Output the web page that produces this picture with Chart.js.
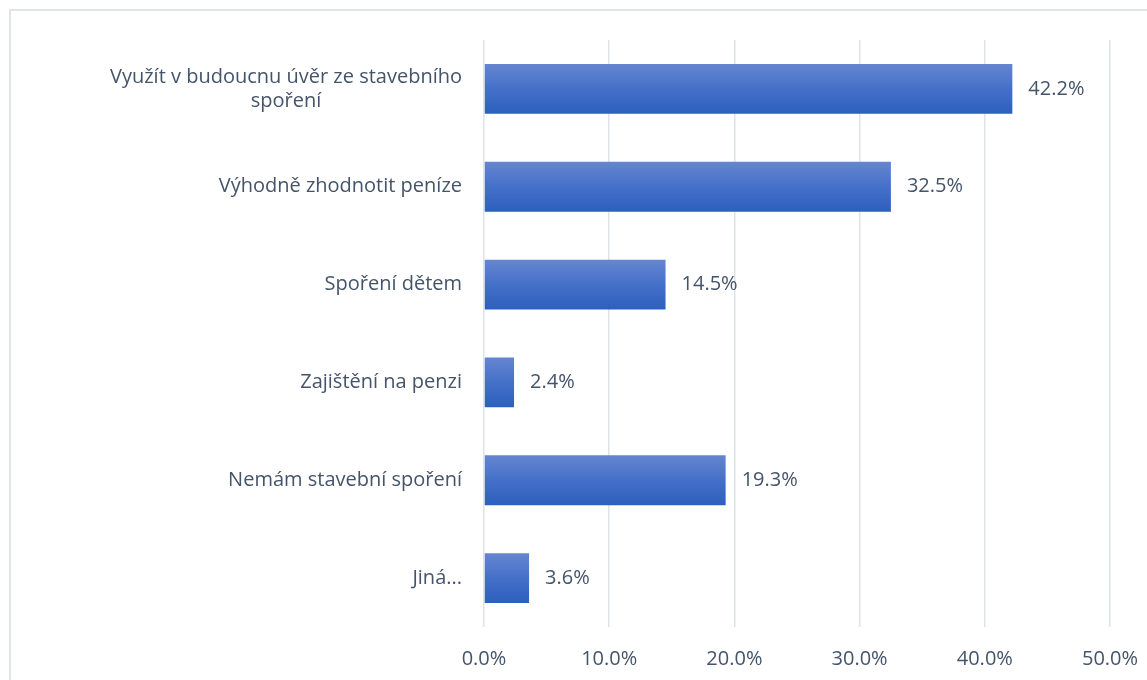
<!DOCTYPE html>
<html>
<head>
<meta charset="utf-8">
<script src="https://cdn.jsdelivr.net/npm/chart.js@4"></script>
<style>
  html, body { margin: 0; padding: 0; background: #fff; }
  #wrap { width: 1147px; height: 680px; position: relative; }
</style>
</head>
<body>
<div id="wrap"><canvas id="chart"></canvas></div>
<script>
// categories (multi-line labels are arrays)
const categories = [
  ['Využít v budoucnu úvěr ze stavebního', 'spoření'],
  ['Výhodně zhodnotit peníze'],
  ['Spoření dětem'],
  ['Zajištění na penzi'],
  ['Nemám stavební spoření'],
  ['Jiná...']
];
const values = [42.2, 32.5, 14.5, 2.4, 19.3, 3.6];
const xTicks = [0, 10, 20, 30, 40, 50];

const TEXT = '#44546a';
const FONT = '"Open Sans", Lato, sans-serif';
const FONT_SIZE = 20;
const BAR_PCT = 0.51;

// outer frame like the office chart border
const framePlugin = {
  id: 'frame',
  beforeDraw(chart) {
    const ctx = chart.ctx;
    ctx.save();
    ctx.strokeStyle = '#e1e4e9';
    ctx.lineWidth = 2;
    ctx.strokeRect(10, 10, chart.width + 20, chart.height + 20);
    ctx.restore();
  }
};

// vertical gradient for each bar (scriptable, so options are not shared)
function barFill(c) {
  const chart = c.chart;
  const area = chart.chartArea;
  const y = chart.scales.y;
  if (!area || !y || c.dataIndex == null) return '#4472c4';
  const cy = y.getPixelForValue(c.dataIndex);
  const h = area.height / categories.length * BAR_PCT;
  const g = chart.ctx.createLinearGradient(0, cy - h / 2, 0, cy + h / 2);
  g.addColorStop(0, '#6586d0');
  g.addColorStop(0.5, '#4570c9');
  g.addColorStop(1, '#2c5fbd');
  return g;
}

// category labels: block right-aligned, lines centred within the block
const catLabels = {
  id: 'catLabels',
  afterDraw(chart) {
    const ctx = chart.ctx;
    const y = chart.scales.y;
    const right = chart.chartArea.left - 22;
    const lh = 24;
    ctx.save();
    ctx.font = FONT_SIZE + 'px ' + FONT;
    ctx.fillStyle = TEXT;
    ctx.textAlign = 'center';
    ctx.textBaseline = 'middle';
    categories.forEach((lines, i) => {
      const cy = y.getPixelForValue(i);
      const w = Math.max(...lines.map(l => ctx.measureText(l).width));
      const cx = right - w / 2;
      const top = cy - (lines.length - 1) * lh / 2;
      lines.forEach((l, j) => ctx.fillText(l, cx, top + j * lh));
    });
    ctx.restore();
  }
};

// value labels to the right of each bar
const valueLabels = {
  id: 'valueLabels',
  afterDatasetsDraw(chart) {
    const ctx = chart.ctx;
    const meta = chart.getDatasetMeta(0);
    ctx.save();
    ctx.font = FONT_SIZE + 'px ' + FONT;
    ctx.fillStyle = TEXT;
    ctx.textAlign = 'left';
    ctx.textBaseline = 'middle';
    meta.data.forEach((bar, i) => {
      ctx.fillText(values[i].toFixed(1) + '%', bar.x + 16, bar.y);
    });
    ctx.restore();
  }
};

new Chart(document.getElementById('chart'), {
  type: 'bar',
  data: {
    labels: categories.map(c => c.join(' ')),
    datasets: [{
      data: values,
      backgroundColor: barFill,
      borderWidth: 0,
      categoryPercentage: 1,
      barPercentage: BAR_PCT
    }]
  },
  options: {
    indexAxis: 'y',
    responsive: true,
    maintainAspectRatio: false,
    animation: false,
    layout: { padding: { left: 484, right: 37, top: 40, bottom: 0 } },
    plugins: {
      legend: { display: false },
      tooltip: { enabled: false }
    },
    scales: {
      x: {
        min: 0,
        max: 50,
        afterBuildTicks: s => { s.ticks = xTicks.map(v => ({ value: v })); },
        afterFit: s => { s.height = 53; s.paddingLeft = 0; s.paddingRight = 0; },
        border: { display: false },
        grid: { color: '#dfe2e7', lineWidth: 1.5, drawTicks: false },
        ticks: {
          padding: 20,
          maxRotation: 0,
          color: TEXT,
          font: { family: FONT, size: FONT_SIZE },
          callback: v => Number(v).toFixed(1) + '%'
        }
      },
      y: {
        border: { display: false },
        grid: { display: false, drawTicks: false },
        ticks: { display: false }
      }
    }
  },
  plugins: [framePlugin, catLabels, valueLabels]
});
</script>
</body>
</html>
